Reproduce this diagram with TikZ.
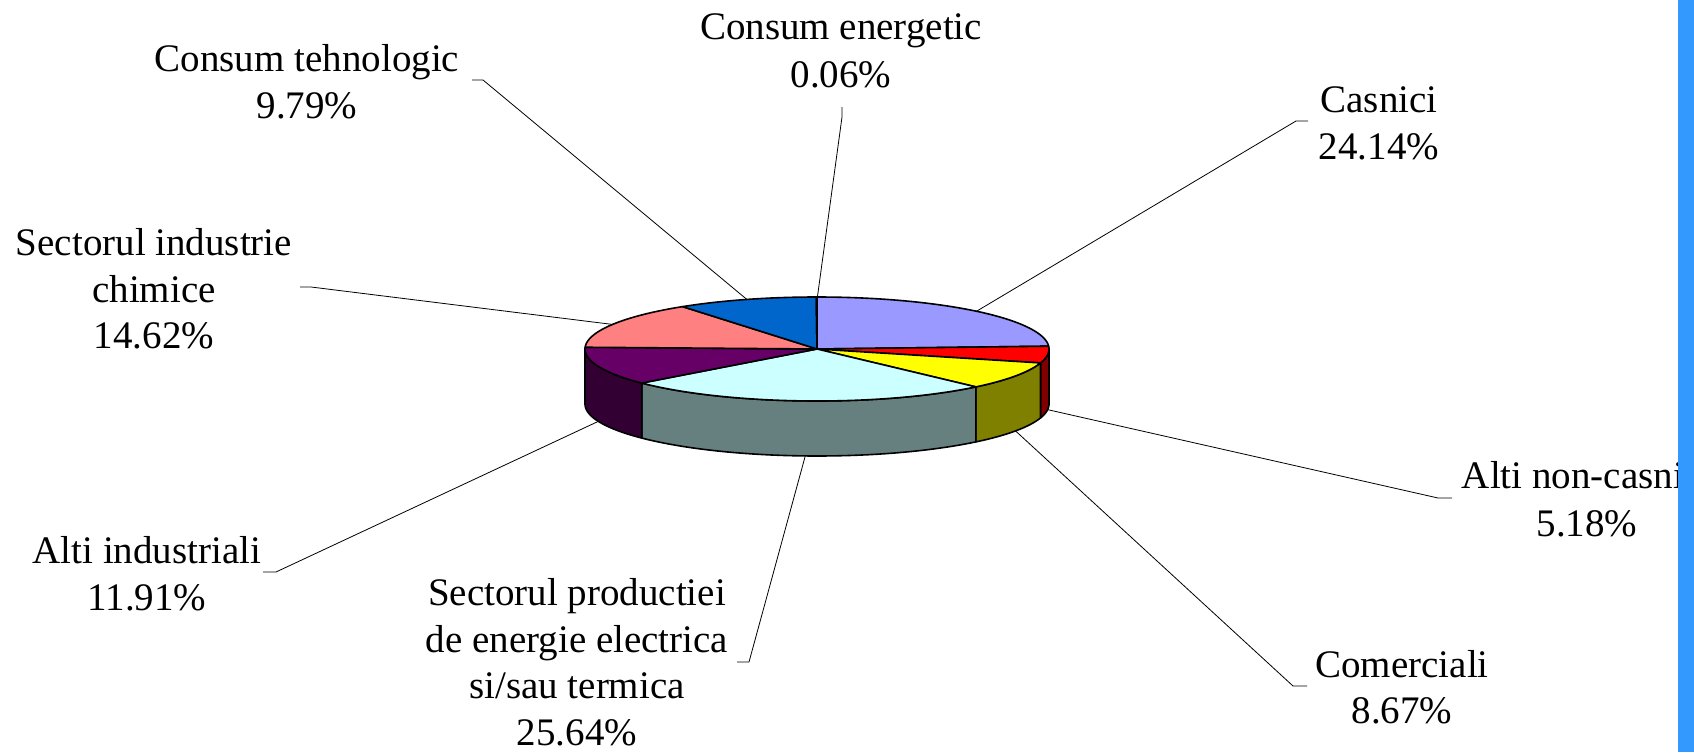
\documentclass[tikz,border=0pt]{standalone}
\usepackage{fontspec}
\setmainfont{Liberation Serif}
\definecolor{cCas}{HTML}{9999FF}
\definecolor{cRed}{HTML}{FF0000}
\definecolor{cYel}{HTML}{FFFF00}
\definecolor{cCyan}{HTML}{CCFFFF}
\definecolor{cPur}{HTML}{660066}
\definecolor{cSal}{HTML}{FF8080}
\definecolor{cBlue}{HTML}{0066CC}
\definecolor{cEn}{HTML}{CCFFCC}
\definecolor{sRed}{HTML}{800000}
\definecolor{sYel}{HTML}{808000}
\definecolor{sCyan}{HTML}{668080}
\definecolor{sPur}{HTML}{330033}
\definecolor{stripBlue}{HTML}{3399FF}
\newcommand\pcx{817}
\newcommand\pcy{349}
\newcommand\prx{232}
\newcommand\pry{52}
\newcommand\pdz{55}
\newcommand\pieside[3]{%
  \filldraw[fill=#3, pieedge] plot[domain=#1:#2, samples=40] ({\pcx+\prx*cos(\x)},{\pcy-\pry*sin(\x)})
    -- plot[domain=#2:#1, samples=40] ({\pcx+\prx*cos(\x)},{\pcy+\pdz-\pry*sin(\x)}) -- cycle;}
\newcommand\pietop[3]{%
  \filldraw[fill=#3, pieedge] (\pcx,\pcy) -- plot[domain=#1:#2, samples=60] ({\pcx+\prx*cos(\x)},{\pcy-\pry*sin(\x)}) -- cycle;}
\begin{document}
\begin{tikzpicture}[x=1pt,y=-1pt,
  lbl/.style={font=\fontsize{39}{47}\selectfont, inner sep=0pt, anchor=base},
  lead/.style={draw=black, line width=0.8pt},
  pieedge/.style={draw=black, line width=1.6pt, line join=round}]
\useasboundingbox (0,0) rectangle (1694,752);
\fill[white] (0,0) rectangle (1694,752);

% labels
\node[lbl] (en1) at (841,40) {Consum energetic};
\node[lbl] (en2) at (841,88) {0.06\%};
\node[lbl] (te1) at (307,71) {Consum tehnologic};
\node[lbl] (te2) at (307,118) {9.79\%};
\node[lbl] (ch1) at (154,255) {Sectorul industrie};
\node[lbl] (ch2) at (154,302) {chimice};
\node[lbl] (ch3) at (154,348) {14.62\%};
\node[lbl] (ca1) at (1379,112) {Casnici};
\node[lbl] (ca2) at (1379,159) {24.14\%};
\node[lbl] (an1) at (1587,488) {Alti non-casnici};
\node[lbl] (an2) at (1587,536) {5.18\%};
\node[lbl] (co1) at (1402,677) {Comerciali};
\node[lbl] (co2) at (1402,723) {8.67\%};
\node[lbl] (pr1) at (577,605) {Sectorul productiei};
\node[lbl] (pr2) at (577,652) {de energie electrica};
\node[lbl] (pr3) at (577,698) {si/sau termica};
\node[lbl] (pr4) at (577,745) {25.64\%};
\node[lbl] (ai1) at (147,563) {Alti industriali};
\node[lbl] (ai2) at (147,610) {11.91\%};

% leader anchor points on the pie
\coordinate (pEn)  at ({\pcx+\prx*cos(89.9)},{\pcy-\pry*sin(89.9)});
\coordinate (pTeh) at ({\pcx+\prx*cos(107.6)},{\pcy-\pry*sin(107.6)});
\coordinate (pChi) at ({\pcx+\prx*cos(151.8)},{\pcy-\pry*sin(151.8)});
\coordinate (pCas) at ({\pcx+\prx*cos(46.55)},{\pcy-\pry*sin(46.55)});
\coordinate (pAnc) at ({\pcx+\prx*cos(-6.23)},{\pcy+\pdz-\pry*sin(-6.23)});
\coordinate (pCom) at ({\pcx+\prx*cos(-31.16)},{\pcy+\pdz-\pry*sin(-31.16)});
\coordinate (pPro) at ({\pcx+\prx*cos(-92.9)},{\pcy+\pdz-\pry*sin(-92.9)});
\coordinate (pAin) at ({\pcx+\prx*cos(-160.5)},{\pcy+\pdz-\pry*sin(-160.5)});
% label-side tick ends
\coordinate (tEn1) at (842,107);  \coordinate (tEn2) at (842,117);
\coordinate (tTe1) at (472,80);   \coordinate (tTe2) at (483,80);
\coordinate (tCh1) at (300,287);  \coordinate (tCh2) at (311,287);
\coordinate (tCa1) at (1308,121); \coordinate (tCa2) at (1296,121);
\coordinate (tAn1) at (1452,498); \coordinate (tAn2) at (1438,498);
\coordinate (tCo1) at (1307,686); \coordinate (tCo2) at (1293,686);
\coordinate (tPr1) at (737,662);  \coordinate (tPr2) at (749,662);
\coordinate (tAi1) at (263,572);  \coordinate (tAi2) at (276,572);

% leader lines
\draw[lead] (tEn1) -- (tEn2) -- (pEn);
\draw[lead] (tTe1) -- (tTe2) -- (pTeh);
\draw[lead] (tCh1) -- (tCh2) -- (pChi);
\draw[lead] (tCa1) -- (tCa2) -- (pCas);
\draw[lead] (tAn1) -- (tAn2) -- (pAnc);
\draw[lead] (tCo1) -- (tCo2) -- (pCom);
\draw[lead] (tPr1) -- (tPr2) -- (pPro);
\draw[lead] (tAi1) -- (tAi2) -- (pAin);

% pie sides
\pieside{0}{-15.552}{sRed}
\pieside{-15.552}{-46.764}{sYel}
\pieside{-46.764}{-139.068}{sCyan}
\pieside{-139.068}{-180}{sPur}
% pie top
\pietop{90}{3.096}{cCas}
\pietop{3.096}{-15.552}{cRed}
\pietop{-15.552}{-46.764}{cYel}
\pietop{-46.764}{-139.068}{cCyan}
\pietop{-139.068}{-181.944}{cPur}
\pietop{-181.944}{-234.576}{cSal}
\pietop{-234.576}{-269.82}{cBlue}
\pietop{-269.82}{-270}{cEn}

% right edge strip
\fill[stripBlue] (1678,0) rectangle (1694,752);
\end{tikzpicture}
\end{document}
